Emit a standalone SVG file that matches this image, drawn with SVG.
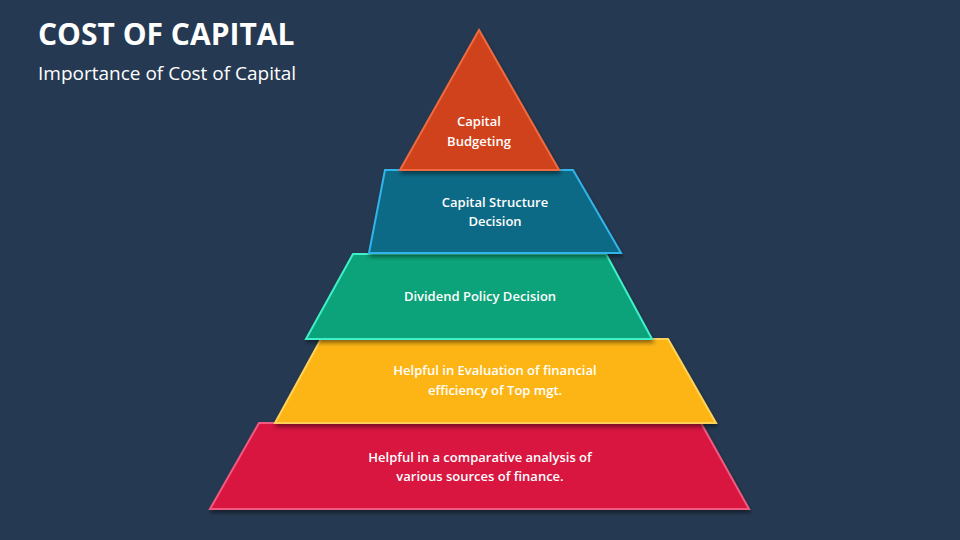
<svg xmlns="http://www.w3.org/2000/svg" width="960" height="540" viewBox="0 0 960 540">
<defs>
<filter id="sh" x="-10%" y="-10%" width="120%" height="130%"><feDropShadow dx="1" dy="3" stdDeviation="2" flood-color="#000" flood-opacity="0.45"/></filter>
<style>
.l{font-family:"Open Sans","Liberation Sans",sans-serif;font-size:13px;font-weight:600;fill:#fff;text-anchor:middle}
.s{stroke-width:2;filter:url(#sh)}
</style>
</defs>
<rect width="960" height="540" fill="#253a52"/>
<text x="38" y="45" font-family="Open Sans,Liberation Sans,sans-serif" font-size="30" font-weight="700" fill="#fff">COST OF CAPITAL</text>
<text x="38" y="80" font-family="Open Sans,Liberation Sans,sans-serif" font-size="19" fill="#fff">Importance of Cost of Capital</text>
<g id="connectors"/>
<g id="n5"><polygon class="s" points="259,423 701,423 749,509 210,509" fill="#d81541" stroke="#f05a80"/>
<text class="l" x="480" y="462">Helpful in a comparative analysis of</text><text class="l" x="480" y="481">various sources of finance.</text></g>
<g id="n4"><polygon class="s" points="321,339 668,339 716,423 275,423" fill="#fdb515" stroke="#ffd35a"/>
<text class="l" x="495" y="375">Helpful in Evaluation of financial</text><text class="l" x="495" y="395">efficiency of Top mgt.</text></g>
<g id="n3"><polygon class="s" points="353,254 606,254 652,339 306,339" fill="#07a37a" stroke="#3ff0c8"/>
<text class="l" x="480" y="301">Dividend Policy Decision</text></g>
<g id="n2"><polygon class="s" points="385,170 573,170 621,253 369,253" fill="#0f6a86" stroke="#30b4ea"/>
<text class="l" x="495" y="207">Capital Structure</text><text class="l" x="495" y="226">Decision</text></g>
<g id="n1"><polygon class="s" points="479,30 559,170 400,170" fill="#d0431e" stroke="#f06a40"/>
<text class="l" x="479" y="126">Capital</text><text class="l" x="479" y="146">Budgeting</text></g>
</svg>
